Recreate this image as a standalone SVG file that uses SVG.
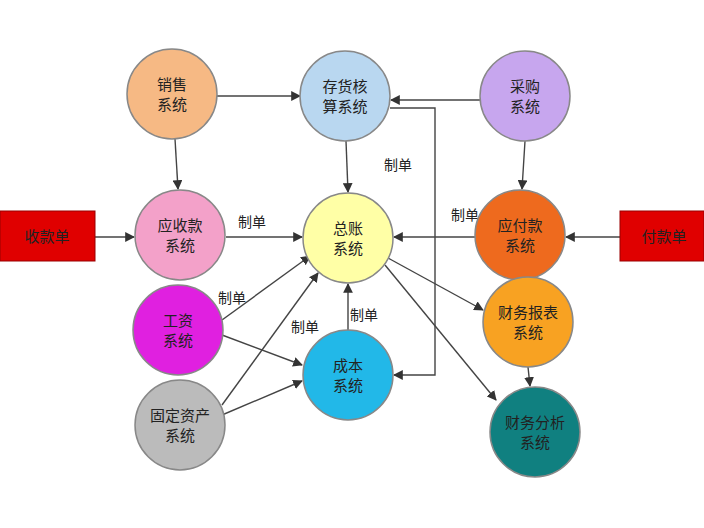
<svg xmlns="http://www.w3.org/2000/svg" width="704" height="528" viewBox="0 0 704 528">
<defs>
<marker id="a" viewBox="0 0 10 10" refX="9" refY="5" markerWidth="7" markerHeight="7" orient="auto"><path d="M0,0L10,5L0,10z" fill="#333"/></marker>
<style>
.n{stroke:#888;stroke-width:1.5}
text{font-family:"Noto Sans CJK SC","Liberation Sans",sans-serif;font-size:15px;fill:#222;text-anchor:middle}
.l{font-size:14px}
.c line,.c path{stroke:#444;stroke-width:1.4;fill:none;marker-end:url(#a)}
</style>
</defs>
<rect width="704" height="528" fill="#fff"/>
<g class="c">
<line x1="217" y1="96" x2="300" y2="96"/>
<line x1="480" y1="100" x2="391" y2="100"/>
<path d="M390,108H435V375H394"/>
<line x1="346" y1="141" x2="348" y2="192"/>
<line x1="175" y1="139" x2="178" y2="189"/>
<line x1="525" y1="141" x2="522" y2="189"/>
<line x1="95" y1="237" x2="134" y2="237"/>
<line x1="620" y1="237" x2="566" y2="237"/>
<line x1="226" y1="237" x2="302" y2="237"/>
<line x1="475" y1="237" x2="394" y2="237"/>
<line x1="222" y1="320" x2="310" y2="256"/>
<line x1="222" y1="335" x2="302" y2="365"/>
<line x1="222" y1="405" x2="318" y2="273"/>
<line x1="222" y1="415" x2="302" y2="381"/>
<line x1="348" y1="330" x2="348" y2="284"/>
<line x1="388" y1="258" x2="483" y2="310"/>
<line x1="385" y1="265" x2="496" y2="400"/>
<line x1="528" y1="367" x2="530" y2="386"/>
</g>
<g id="labels">
<text class="l" x="398" y="170">制单</text>
<text class="l" x="252" y="227">制单</text>
<text class="l" x="465" y="220">制单</text>
<text class="l" x="232" y="303">制单</text>
<text class="l" x="305" y="332">制单</text>
<text class="l" x="364" y="320">制单</text>
</g>
<g id="n1"><circle class="n" cx="172" cy="94" r="45" fill="#F6B984"/><text x="172" y="90">销售</text><text x="172" y="110">系统</text></g>
<g id="n2"><circle class="n" cx="345" cy="96" r="45" fill="#B9D7F0"/><text x="345" y="92">存货核</text><text x="345" y="112">算系统</text></g>
<g id="n3"><circle class="n" cx="525" cy="96" r="45" fill="#C7A6EE"/><text x="525" y="92">采购</text><text x="525" y="112">系统</text></g>
<g id="n4"><circle class="n" cx="180" cy="235" r="45" fill="#F3A1C9"/><text x="180" y="231">应收款</text><text x="180" y="251">系统</text></g>
<g id="n5"><circle class="n" cx="348" cy="238" r="45" fill="#FFFFA6"/><text x="348" y="234">总账</text><text x="348" y="254">系统</text></g>
<g id="n6"><circle class="n" cx="520" cy="235" r="45" fill="#EE6A1E"/><text x="520" y="231">应付款</text><text x="520" y="251">系统</text></g>
<g id="n7"><rect x="0" y="211" width="95" height="50" fill="#E00000" stroke="#900"/><text x="47" y="242">收款单</text></g>
<g id="n8"><rect x="620" y="211" width="84" height="50" fill="#E00000" stroke="#900"/><text x="664" y="242">付款单</text></g>
<g id="n9"><circle class="n" cx="178" cy="330" r="45" fill="#E020E0"/><text x="178" y="326">工资</text><text x="178" y="346">系统</text></g>
<g id="n10"><circle class="n" cx="348" cy="375" r="45" fill="#22B8E8"/><text x="348" y="371">成本</text><text x="348" y="391">系统</text></g>
<g id="n11"><circle class="n" cx="528" cy="322" r="45" fill="#F8A222"/><text x="528" y="318">财务报表</text><text x="528" y="338">系统</text></g>
<g id="n12"><circle class="n" cx="180" cy="425" r="45" fill="#BBBBBB"/><text x="180" y="421">固定资产</text><text x="180" y="441">系统</text></g>
<g id="n13"><circle class="n" cx="535" cy="432" r="45" fill="#108080"/><text x="535" y="428">财务分析</text><text x="535" y="448">系统</text></g>
</svg>
